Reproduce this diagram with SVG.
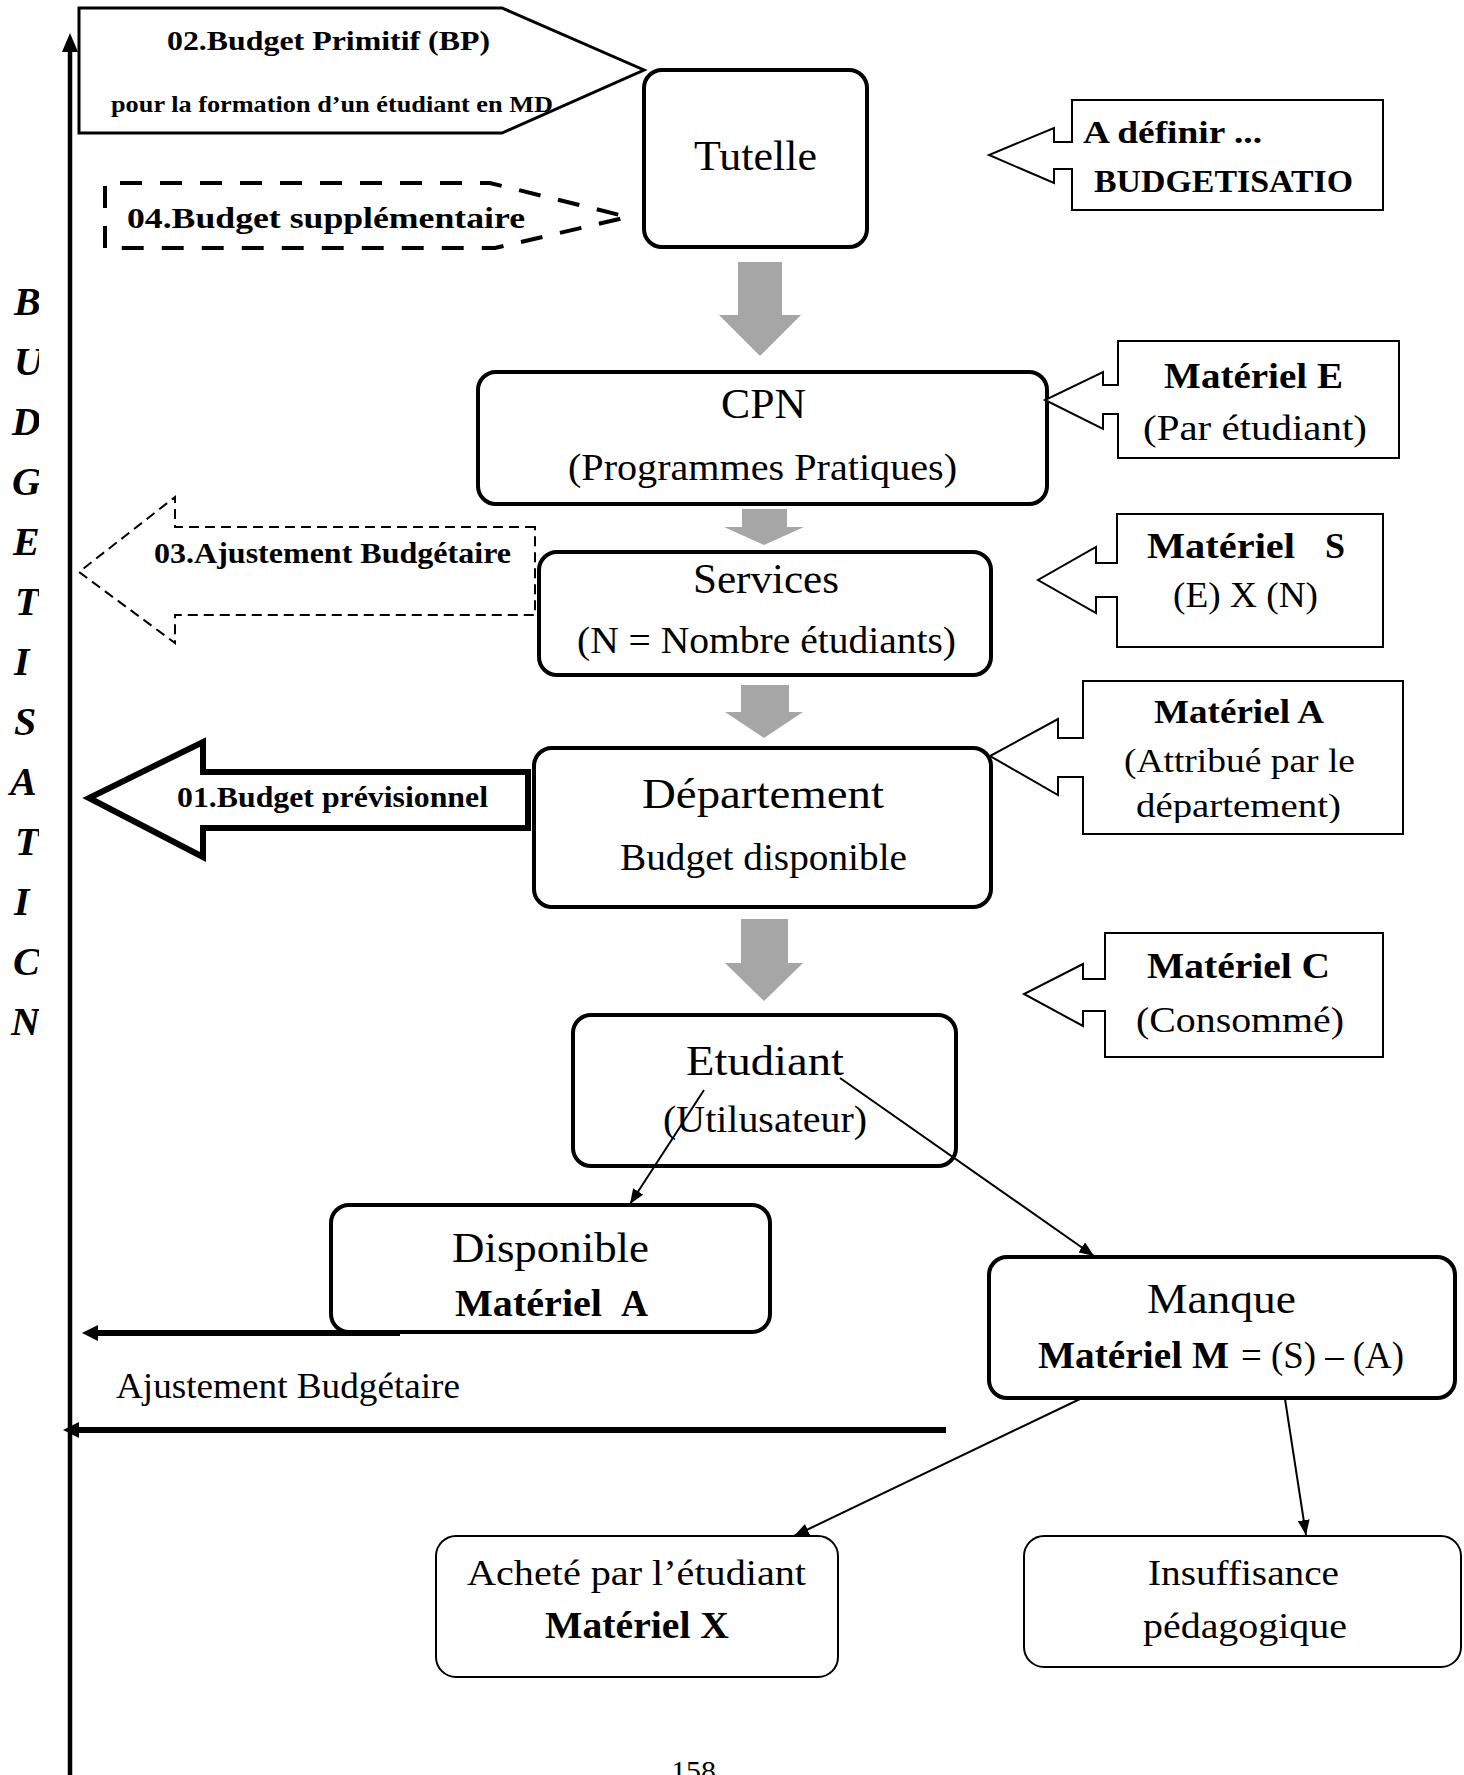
<svg xmlns="http://www.w3.org/2000/svg" width="1464" height="1775" viewBox="0 0 1464 1775">
<style>
.t{font-family:"Liberation Serif","Times New Roman",serif;fill:#000}
.b{font-weight:bold}
.box{fill:#fff;stroke:#000;stroke-width:4}
.box2{fill:#fff;stroke:#000;stroke-width:2}
.call{fill:#fff;stroke:#000;stroke-width:2}
.grey{fill:#a6a6a6}
.thin{fill:none;stroke:#000;stroke-width:2}
.thick{fill:none;stroke:#000;stroke-width:6}
.vl{font-family:"Liberation Serif","Times New Roman",serif;font-weight:bold;font-style:italic;font-size:40px}
</style>
<defs>
<marker id="ah" markerUnits="userSpaceOnUse" markerWidth="16" markerHeight="12" refX="15" refY="6" orient="auto">
<path d="M0,0 L15,6 L0,12 Z" fill="#000"/>
</marker>
<clipPath id="clipV"><rect x="0" y="0" width="39" height="1775"/></clipPath>
<clipPath id="clipA"><rect x="1080" y="680" width="330" height="143"/></clipPath>
</defs>
<rect x="0" y="0" width="1464" height="1775" fill="#fff"/>

<g id="axis">
<line x1="70" y1="1775" x2="70" y2="48" stroke="#000" stroke-width="4.5"/>
<polygon points="70,33 62,52 78,52" fill="#000"/>
<g clip-path="url(#clipV)">
<text class="vl" x="14" y="315">B</text>
<text class="vl" x="14" y="375">U</text>
<text class="vl" x="12" y="435">D</text>
<text class="vl" x="12" y="495">G</text>
<text class="vl" x="13" y="555">E</text>
<text class="vl" x="15" y="615">T</text>
<text class="vl" x="14" y="675">I</text>
<text class="vl" x="14" y="735">S</text>
<text class="vl" x="10" y="795">A</text>
<text class="vl" x="15" y="855">T</text>
<text class="vl" x="14" y="915">I</text>
<text class="vl" x="13" y="975">C</text>
<text class="vl" x="11" y="1035">N</text>
</g>
</g>

<g id="bp">
<polygon points="79,8 502,8 644,70 502,133 79,133" fill="#fff" stroke="#000" stroke-width="3"/>
<text class="t b" x="167" y="50" font-size="28" textLength="323" lengthAdjust="spacingAndGlyphs">02.Budget Primitif (BP)</text>
<text class="t b" x="111" y="112" font-size="23" textLength="442" lengthAdjust="spacingAndGlyphs">pour la formation d’un étudiant en MD</text>
</g>

<g id="bs">
<path d="M105,248 L105,183 L490,183 L628,217 L495,248 Z" fill="none" stroke="#000" stroke-width="4" stroke-dasharray="22 18"/>
<text class="t b" x="127" y="228" font-size="30" textLength="398" lengthAdjust="spacingAndGlyphs">04.Budget supplémentaire</text>
</g>

<g id="tutelle">
<rect class="box" x="644" y="70" width="223" height="177" rx="18"/>
<text class="t" x="694" y="170" font-size="42" textLength="123" lengthAdjust="spacingAndGlyphs">Tutelle</text>
</g>

<g id="adefinir">
<path class="call" d="M1072,100 H1383 V210 H1072 V169 H1054 V183 L989,155 L1054,128 V142 H1072 Z"/>
<text class="t b" x="1083" y="143" font-size="32" textLength="179" lengthAdjust="spacingAndGlyphs">A définir ...</text>
<text class="t b" x="1094" y="192" font-size="32" textLength="259" lengthAdjust="spacingAndGlyphs">BUDGETISATIO</text>
</g>

<g id="cpn">
<rect class="box" x="478" y="372" width="569" height="132" rx="18"/>
<text class="t" x="721" y="418" font-size="42" textLength="85" lengthAdjust="spacingAndGlyphs">CPN</text>
<text class="t" x="568" y="480" font-size="37" textLength="389" lengthAdjust="spacingAndGlyphs">(Programmes Pratiques)</text>
</g>

<g id="matE">
<path class="call" d="M1118,341 H1399 V458 H1118 V414 H1103 V429 L1045,400 L1103,372 V385 H1118 Z"/>
<text class="t b" x="1164" y="388" font-size="36" textLength="179" lengthAdjust="spacingAndGlyphs">Matériel E</text>
<text class="t" x="1143" y="440" font-size="35" textLength="224" lengthAdjust="spacingAndGlyphs">(Par étudiant)</text>
</g>

<g id="ajust03">
<path d="M535,527 H175 V497 L79,572 L175,643 V615 H535 Z" fill="none" stroke="#000" stroke-width="2" stroke-dasharray="10 6"/>
<text class="t b" x="154" y="563" font-size="29" textLength="357" lengthAdjust="spacingAndGlyphs">03.Ajustement Budgétaire</text>
</g>

<g id="services">
<rect class="box" x="539" y="552" width="452" height="123" rx="18"/>
<text class="t" x="693" y="593" font-size="42" textLength="146" lengthAdjust="spacingAndGlyphs">Services</text>
<text class="t" x="577" y="653" font-size="37" textLength="379" lengthAdjust="spacingAndGlyphs">(N = Nombre étudiants)</text>
</g>

<g id="matS">
<path class="call" d="M1117,514 H1383 V647 H1117 V597 H1096 V613 L1038,580 L1096,547 V563 H1117 Z"/>
<text class="t b" x="1147" y="558" font-size="36" textLength="148" lengthAdjust="spacingAndGlyphs">Matériel</text>
<text class="t b" x="1325" y="558" font-size="36">S</text>
<text class="t" x="1173" y="607" font-size="35" textLength="145" lengthAdjust="spacingAndGlyphs">(E) X (N)</text>
</g>

<g id="bprev">
<path d="M528,772 H203 V742 L89,798 L203,857 V828 H528 Z" fill="#fff" stroke="#000" stroke-width="6" stroke-linejoin="miter"/>
<text class="t b" x="177" y="807" font-size="29" textLength="311" lengthAdjust="spacingAndGlyphs">01.Budget prévisionnel</text>
</g>

<g id="departement">
<rect class="box" x="534" y="748" width="457" height="159" rx="18"/>
<text class="t" x="642" y="808" font-size="43" textLength="242" lengthAdjust="spacingAndGlyphs">Département</text>
<text class="t" x="620" y="870" font-size="37" textLength="287" lengthAdjust="spacingAndGlyphs">Budget disponible</text>
</g>

<g id="matA">
<path class="call" d="M1083,681 H1403 V834 H1083 V777 H1058 V795 L990,756 L1058,719 V738 H1083 Z"/>
<text class="t b" x="1154" y="723" font-size="34" textLength="170" lengthAdjust="spacingAndGlyphs">Matériel A</text>
<text class="t" x="1124" y="772" font-size="34" textLength="231" lengthAdjust="spacingAndGlyphs">(Attribué par le</text>
<g clip-path="url(#clipA)">
<text class="t" x="1136" y="817" font-size="34" textLength="205" lengthAdjust="spacingAndGlyphs">département)</text>
</g>
</g>

<g id="matC">
<path class="call" d="M1105,933 H1383 V1057 H1105 V1011 H1083 V1026 L1024,994 L1083,964 V979 H1105 Z"/>
<text class="t b" x="1147" y="978" font-size="36" textLength="183" lengthAdjust="spacingAndGlyphs">Matériel C</text>
<text class="t" x="1136" y="1032" font-size="36" textLength="208" lengthAdjust="spacingAndGlyphs">(Consommé)</text>
</g>

<g id="etudiant">
<rect class="box" x="573" y="1015" width="383" height="151" rx="18"/>
<text class="t" x="686" y="1075" font-size="42" textLength="158" lengthAdjust="spacingAndGlyphs">Etudiant</text>
<text class="t" x="663" y="1132" font-size="37" textLength="204" lengthAdjust="spacingAndGlyphs">(Utilusateur)</text>
</g>

<g id="disponible">
<rect class="box" x="331" y="1205" width="439" height="127" rx="18"/>
<text class="t" x="452" y="1262" font-size="43" textLength="197" lengthAdjust="spacingAndGlyphs">Disponible</text>
<text class="t b" x="455" y="1316" font-size="37" textLength="147" lengthAdjust="spacingAndGlyphs">Matériel</text>
<text class="t b" x="621" y="1316" font-size="37" textLength="27" lengthAdjust="spacingAndGlyphs">A</text>
</g>

<g id="manque">
<rect class="box" x="989" y="1257" width="466" height="141" rx="18"/>
<text class="t" x="1147" y="1313" font-size="43" textLength="149" lengthAdjust="spacingAndGlyphs">Manque</text>
<text class="t b" x="1038" y="1368" font-size="37" textLength="191" lengthAdjust="spacingAndGlyphs">Matériel M</text>
<text class="t" x="1241" y="1368" font-size="37" textLength="163" lengthAdjust="spacingAndGlyphs">= (S) – (A)</text>
</g>

<g id="achete">
<rect class="box2" x="436" y="1536" width="402" height="141" rx="20"/>
<text class="t" x="467" y="1585" font-size="36" textLength="339" lengthAdjust="spacingAndGlyphs">Acheté par l’étudiant</text>
<text class="t b" x="545" y="1638" font-size="37" textLength="184" lengthAdjust="spacingAndGlyphs">Matériel X</text>
</g>

<g id="insuffisance">
<rect class="box2" x="1024" y="1536" width="437" height="131" rx="20"/>
<text class="t" x="1148" y="1585" font-size="36" textLength="191" lengthAdjust="spacingAndGlyphs">Insuffisance</text>
<text class="t" x="1143" y="1638" font-size="36" textLength="204" lengthAdjust="spacingAndGlyphs">pédagogique</text>
</g>

<g id="connectors">
<polygon class="grey" points="738,262 782,262 782,315 801,315 760,356 719,315 738,315"/>
<polygon class="grey" points="742,509 787,509 787,527 804,527 764,545 724,527 742,527"/>
<polygon class="grey" points="741,685 789,685 789,712 803,712 764,738 725,712 741,712"/>
<polygon class="grey" points="741,919 788,919 788,963 803,963 764,1001 725,963 741,963"/>
<line class="thin" x1="704" y1="1090" x2="630" y2="1204" marker-end="url(#ah)"/>
<line class="thin" x1="840" y1="1078" x2="1094" y2="1256" marker-end="url(#ah)"/>
<line class="thin" x1="1080" y1="1399" x2="794" y2="1536" marker-end="url(#ah)"/>
<line class="thin" x1="1285" y1="1399" x2="1306" y2="1535" marker-end="url(#ah)"/>
<line class="thick" x1="400" y1="1333" x2="96" y2="1333"/>
<polygon points="82,1333 98,1325 98,1341" fill="#000"/>
<line class="thick" x1="946" y1="1430" x2="77" y2="1430"/>
<polygon points="63,1430 79,1422 79,1438" fill="#000"/>
<text class="t" x="116" y="1398" font-size="35" textLength="344" lengthAdjust="spacingAndGlyphs">Ajustement Budgétaire</text>
</g>

<text class="t" x="671" y="1781" font-size="30" textLength="45" lengthAdjust="spacingAndGlyphs">158</text>
</svg>
